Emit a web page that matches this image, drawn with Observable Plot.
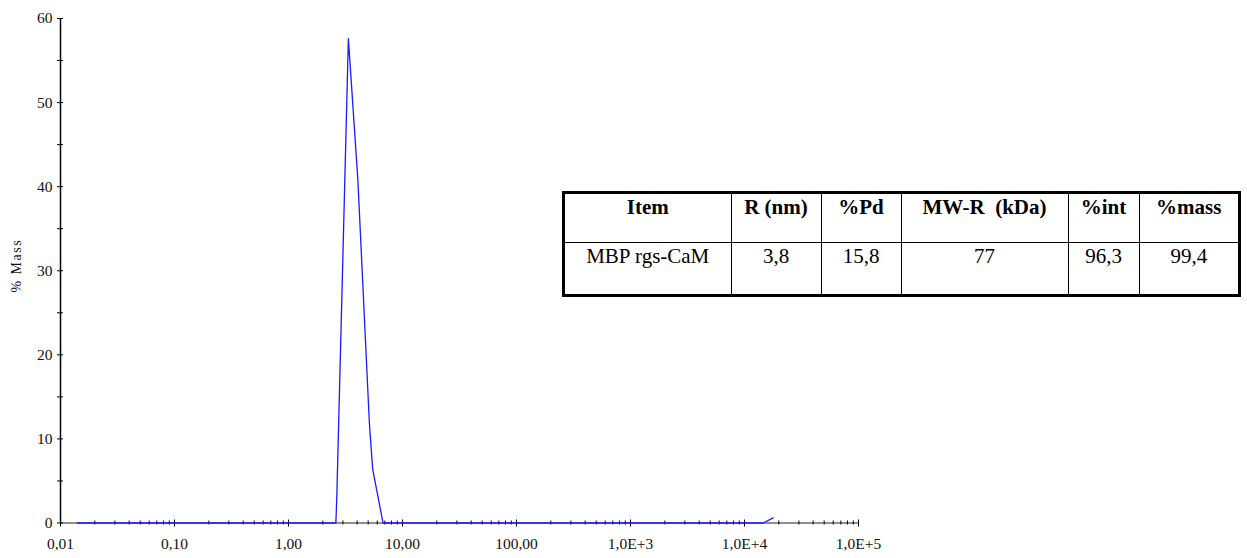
<!DOCTYPE html>
<html><head><meta charset="utf-8">
<script src="https://cdn.jsdelivr.net/npm/d3@7"></script>
<script src="https://cdn.jsdelivr.net/npm/@observablehq/plot@0.6"></script>
<style>
html,body{margin:0;padding:0;background:#fff;}
#wrap{position:relative;width:1247px;height:558px;overflow:hidden;}
#tbl{position:absolute;left:562px;top:190.5px;width:679px;height:106.5px;border:3px solid #000;box-sizing:border-box;}
#tbl table{border-collapse:collapse;table-layout:fixed;width:100%;height:100%;font-family:"Liberation Serif","Times New Roman",serif;font-size:21px;color:#000;}
#tbl td{padding:3px 0 0 0;text-align:center;vertical-align:top;line-height:1;white-space:pre;}
#tbl td+td{border-left:1.5px solid #000;}
#tbl tr+tr td{border-top:1.5px solid #000;}
</style></head>
<body><div id="wrap"></div>
<script>
// Data
const radius  = [0.014, 2.604, 2.658, 3.352, 4.06, 5.122, 5.474, 6.752, 14590, 17850];
const massPct = [0,     0,     3.5,   57.6,  40.8, 11.9,  6.4,   0,     0,     0.6];
const xMajor  = [0.01, 0.1, 1, 10, 100, 1000, 10000, 100000];
const xLabels = ["0,01", "0,10", "1,00", "10,00", "100,00", "1,0E+3", "1,0E+4", "1,0E+5"];
const yMajor  = [0, 10, 20, 30, 40, 50, 60];
const yMinor  = [5, 15, 25, 35, 45, 55];
const tableHeader = ["Item", "R (nm)", "%Pd", "MW-R  (kDa)", "%int", "%mass"];
const tableRow    = ["MBP rgs-CaM", "3,8", "15,8", "77", "96,3", "99,4"];

const xMinor = [];
for (const d of xMajor.slice(0, -1)) for (let k = 2; k <= 9; k++) xMinor.push(d * k);

const pts = radius.map((r, i) => ({r, m: massPct[i]}));
const serif = "Liberation Serif, Times New Roman, serif";

const chart = Plot.plot({
  width: 1247, height: 558,
  marginLeft: 60, marginRight: 389, marginTop: 18, marginBottom: 35.5,
  x: {type: "log", domain: [0.01, 1e5]},
  y: {domain: [0, 60]},
  style: {background: "#fff", color: "#000"},
  marks: [
    Plot.ruleY([0], {stroke: "#222", strokeWidth: 1.2}),
    Plot.ruleX([0.01], {y1: 0, y2: 60, stroke: "#000", strokeWidth: 1.5}),
    Plot.axisX({ticks: xMinor, tickSize: 4, dy: -2, tickFormat: () => "", label: null}),
    Plot.axisX({ticks: xMajor, tickSize: 7, dy: -3, tickFormat: () => "", label: null}),
    Plot.axisX({ticks: xMajor, tickSize: 0, tickPadding: 15, tickFormat: d => xLabels[xMajor.indexOf(d)], label: null,
      fill: "#111", fontFamily: serif, fontSize: 15.5}),
    Plot.axisY({ticks: [...yMajor, ...yMinor], tickSize: 6, dx: 3, tickFormat: () => "", label: null}),
    Plot.axisY({ticks: yMajor, tickSize: 0, tickPadding: 8, label: null, fill: "#111", fontFamily: serif, fontSize: 15.5}),
    Plot.line(pts, {x: "r", y: "m", stroke: "#1a1aff", strokeWidth: 1.3}),
    Plot.text(["% Mass"], {text: d => d, frameAnchor: "left", textAnchor: "middle", dx: -44, dy: -5, rotate: -90,
      fontFamily: serif, fontSize: 14, fill: "#111"})
  ]
});
d3.select(chart).selectAll("text").filter(function() { return this.textContent === "% Mass"; })
  .style("letter-spacing", "1.5px");

const wrap = document.getElementById("wrap");
wrap.appendChild(chart);

const tbl = document.createElement("div");
tbl.id = "tbl";
const colW = [166, 90, 80, 167, 71, 99];
let html = "<table><colgroup>" + colW.map(w => `<col style="width:${w}px">`).join("") + "</colgroup>";
html += "<tr style='height:48.5px'>" + tableHeader.map(t => `<td><b>${t}</b></td>`).join("") + "</tr>";
html += "<tr>" + tableRow.map(t => `<td>${t}</td>`).join("") + "</tr></table>";
tbl.innerHTML = html;
wrap.appendChild(tbl);
</script>
</body></html>
